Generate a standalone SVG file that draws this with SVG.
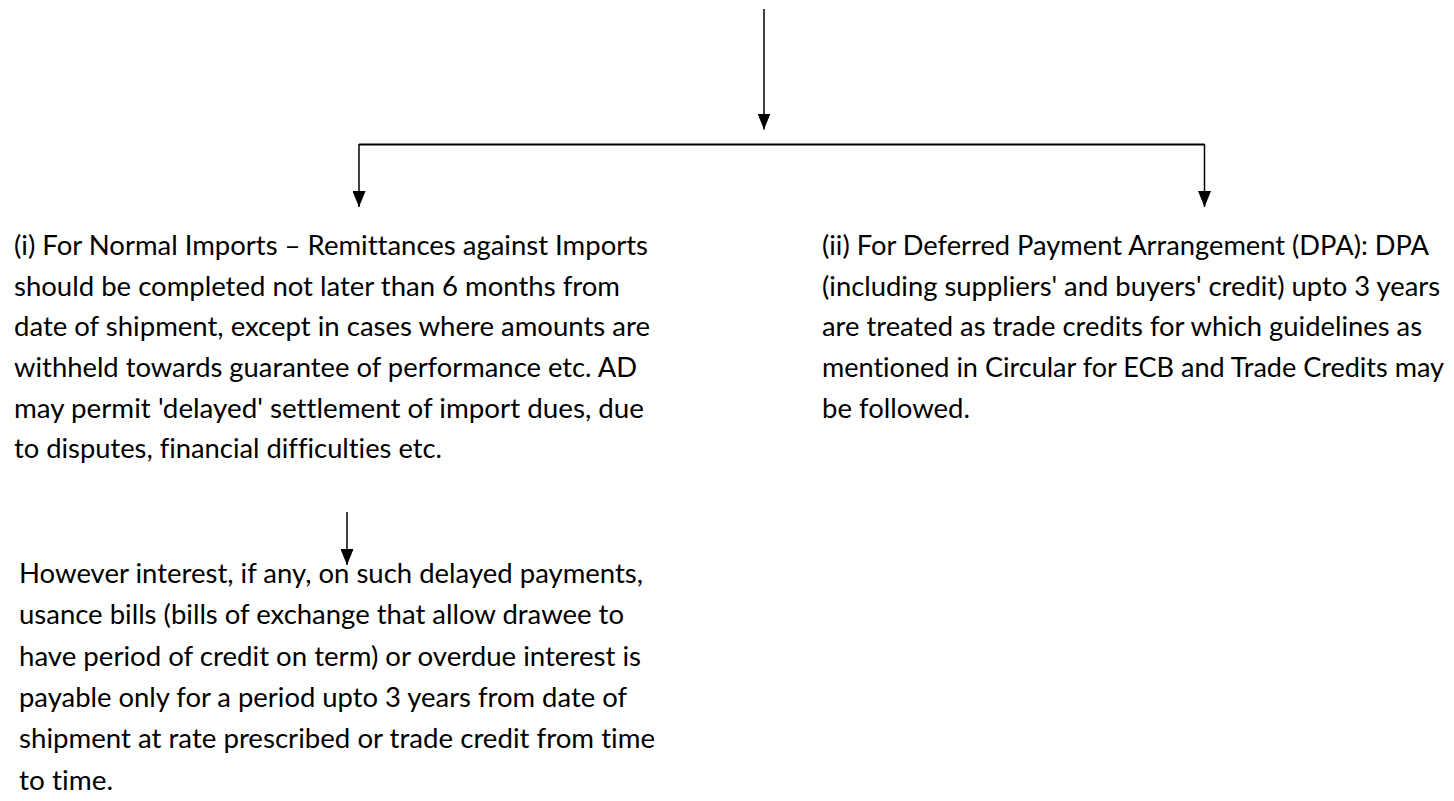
<svg xmlns="http://www.w3.org/2000/svg" width="1454" height="801" viewBox="0 0 1454 801">
  <style>
    .bg { fill: #ffffff; }
    .t { font-family: Lato, "Liberation Sans", sans-serif; font-size: 27px; fill: #000000; font-variant-ligatures: none; }
    .link { fill: none; stroke: #000000; stroke-width: 1.5; }
    .bar { fill: none; stroke: #000000; stroke-width: 2; }
  </style>
  <defs>
    <marker id="arrowhead" viewBox="0 0 16 13" refX="16" refY="6.5" markerWidth="16" markerHeight="13" markerUnits="userSpaceOnUse" orient="auto">
      <path d="M0,0 L16,6.5 L0,13 Z" fill="#000000"/>
    </marker>
  </defs>

  <rect class="bg" x="0" y="0" width="1454" height="801"/>

  <!-- connectors -->
  <g id="connectors">
    <path class="link" d="M764,9 V129.5" marker-end="url(#arrowhead)"/>
    <path class="bar" d="M359,144.5 H1204.5"/>
    <path class="link" d="M359,144 V207" marker-end="url(#arrowhead)"/>
    <path class="link" d="M1204.5,144 V207" marker-end="url(#arrowhead)"/>
    <path class="link" d="M347,512 V565" marker-end="url(#arrowhead)"/>
  </g>

  <!-- normal imports -->
  <g id="node-normal-imports">
    <text class="t" x="14" y="255" textLength="634" lengthAdjust="spacingAndGlyphs">(i) For Normal Imports – Remittances against Imports</text>
    <text class="t" x="14" y="296" textLength="606" lengthAdjust="spacingAndGlyphs">should be completed not later than 6 months from</text>
    <text class="t" x="14" y="336" textLength="636" lengthAdjust="spacingAndGlyphs">date of shipment, except in cases where amounts are</text>
    <text class="t" x="14" y="377" textLength="623" lengthAdjust="spacingAndGlyphs">withheld towards guarantee of performance etc. AD</text>
    <text class="t" x="14" y="418" textLength="630" lengthAdjust="spacingAndGlyphs">may permit 'delayed' settlement of import dues, due</text>
    <text class="t" x="14" y="458" textLength="428" lengthAdjust="spacingAndGlyphs">to disputes, financial difficulties etc.</text>
  </g>

  <!-- deferred payment arrangement -->
  <g id="node-deferred-payment">
    <text class="t" x="822" y="255" textLength="607" lengthAdjust="spacingAndGlyphs">(ii) For Deferred Payment Arrangement (DPA): DPA</text>
    <text class="t" x="822" y="296" textLength="618" lengthAdjust="spacingAndGlyphs">(including suppliers' and buyers' credit) upto 3 years</text>
    <text class="t" x="822" y="336" textLength="600" lengthAdjust="spacingAndGlyphs">are treated as trade credits for which guidelines as</text>
    <text class="t" x="822" y="377" textLength="622" lengthAdjust="spacingAndGlyphs">mentioned in Circular for ECB and Trade Credits may</text>
    <text class="t" x="822" y="418" textLength="148" lengthAdjust="spacingAndGlyphs">be followed.</text>
  </g>

  <!-- interest on delayed payments -->
  <g id="node-interest">
    <text class="t" x="19" y="583" textLength="624" lengthAdjust="spacingAndGlyphs">However interest, if any, on such delayed payments,</text>
    <text class="t" x="19" y="624" textLength="605" lengthAdjust="spacingAndGlyphs">usance bills (bills of exchange that allow drawee to</text>
    <text class="t" x="19" y="666" textLength="622" lengthAdjust="spacingAndGlyphs">have period of credit on term) or overdue interest is</text>
    <text class="t" x="19" y="707" textLength="608" lengthAdjust="spacingAndGlyphs">payable only for a period upto 3 years from date of</text>
    <text class="t" x="19" y="748" textLength="636" lengthAdjust="spacingAndGlyphs">shipment at rate prescribed or trade credit from time</text>
    <text class="t" x="19" y="790" textLength="94" lengthAdjust="spacingAndGlyphs">to time.</text>
  </g>
</svg>
